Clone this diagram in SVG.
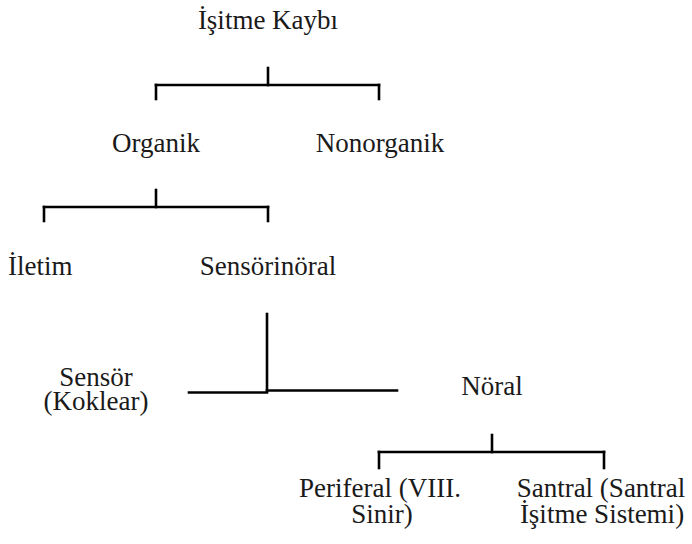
<svg xmlns="http://www.w3.org/2000/svg" width="692" height="544" viewBox="0 0 692 544">
<style>
text{font-family:"Liberation Serif","Times New Roman",serif;font-size:27px;fill:#1a1a1a;text-anchor:middle}
.c line{stroke:#000;stroke-width:2.6;stroke-linecap:square}
</style>
<rect width="692" height="544" fill="#fff"/>
<g id="connectors" class="c">
<line x1="268" y1="68" x2="268" y2="85"/>
<line x1="156" y1="85" x2="379" y2="85"/>
<line x1="156" y1="85" x2="156" y2="99"/>
<line x1="379" y1="85" x2="379" y2="99"/>
<line x1="156" y1="190" x2="156" y2="207"/>
<line x1="44" y1="207" x2="268" y2="207"/>
<line x1="44" y1="207" x2="44" y2="221"/>
<line x1="268" y1="207" x2="268" y2="221"/>
<line x1="267" y1="314" x2="267" y2="391"/>
<line x1="189" y1="392.5" x2="267" y2="392.5"/>
<line x1="267" y1="390.5" x2="397" y2="390.5"/>
<line x1="492" y1="435" x2="492" y2="452"/>
<line x1="379" y1="452" x2="604" y2="452"/>
<line x1="379" y1="452" x2="379" y2="468"/>
<line x1="604" y1="452" x2="604" y2="468"/>
</g>
<g id="isitme-kaybi"><text x="268" y="29">İşitme Kaybı</text></g>
<g id="organik"><text x="156" y="152">Organik</text></g>
<g id="nonorganik"><text x="380" y="152">Nonorganik</text></g>
<g id="iletim"><text x="8" y="275" style="text-anchor:start">İletim</text></g>
<g id="sensorinoral"><text x="268" y="275">Sensörinöral</text></g>
<g id="sensor"><text x="96" y="386">Sensör</text><text x="96" y="410">(Koklear)</text></g>
<g id="noral"><text x="492" y="395">Nöral</text></g>
<g id="periferal"><text x="380" y="497">Periferal (VIII.</text><text x="382" y="523">Sinir)</text></g>
<g id="santral"><text x="601" y="497">Santral (Santral</text><text x="602" y="523">İşitme Sistemi)</text></g>
</svg>
